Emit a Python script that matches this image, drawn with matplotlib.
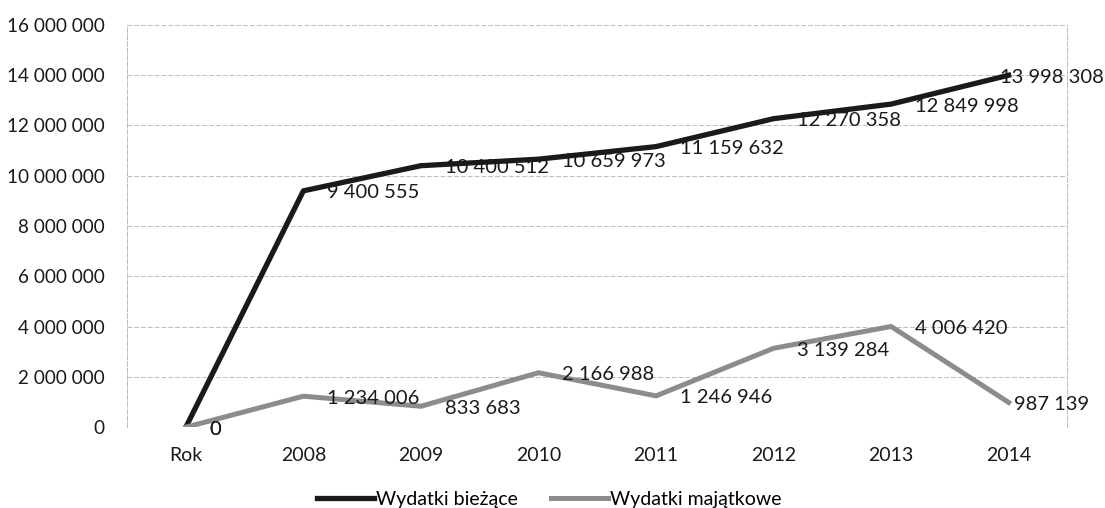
import matplotlib.pyplot as plt
from matplotlib.ticker import FuncFormatter

plt.rcParams['font.family'] = ['Lato', 'DejaVu Sans']

# kategorie i serie
lata = ["Rok", "2008", "2009", "2010", "2011", "2012", "2013", "2014"]
wydatki_biezace = [0, 9400555, 10400512, 10659973, 11159632, 12270358, 12849998, 13998308]
wydatki_majatkowe = [0, 1234006, 833683, 2166988, 1246946, 3139284, 4006420, 987139]
y_ticks = [0, 2000000, 4000000, 6000000, 8000000, 10000000, 12000000, 14000000, 16000000]


def spacja(v):
    return f"{int(v):,}".replace(",", " ")


fig = plt.figure(figsize=(11.05, 5.08), dpi=100)
ax = fig.add_axes([0.115, 0.159, 0.851, 0.792])

x = range(len(lata))
ax.plot(x, wydatki_biezace, color="#1a1a1a", lw=3.8, solid_joinstyle="round",
        label="Wydatki bieżące", zorder=3)
ax.plot(x, wydatki_majatkowe, color="#8c8c8c", lw=3.6, solid_joinstyle="round",
        label="Wydatki majątkowe", zorder=3)

# etykiety wartości po prawej stronie punktów; ostatnie przesunięte, żeby zmieściły się w ramce
ostatni = len(lata) - 1
for seria, dx_koniec in ((wydatki_biezace, -6.5), (wydatki_majatkowe, 3.5)):
    for i, v in enumerate(seria):
        dx = dx_koniec if i == ostatni else 17
        ax.annotate(spacja(v), (i, v), xytext=(dx, -1.5), textcoords="offset points",
                    ha="left", va="center", fontsize=14.5, color="#1a1a1a", zorder=4)

ax.set_xlim(-0.5, len(lata) - 0.5)
ax.set_ylim(0, 16000000)
ax.set_xticks(list(x))
ax.set_xticklabels(lata)
ax.set_yticks(y_ticks)
ax.yaxis.set_major_formatter(FuncFormatter(lambda v, p: spacja(v)))
ax.tick_params(length=0, labelsize=14, colors="#1a1a1a")
ax.tick_params(axis="y", labelsize=13.6, pad=16)
ax.tick_params(axis="x", pad=14)

ax.grid(axis="y", color="#bdbdbd", lw=0.7, ls=(0, (5, 2)))
for s in ("top", "bottom"):
    ax.spines[s].set_visible(False)
for s in ("left", "right"):
    ax.spines[s].set_color("#bdbdbd")
    ax.spines[s].set_linewidth(0.7)
    ax.spines[s].set_linestyle((0, (5, 2)))

ax.legend(loc="upper center", bbox_to_anchor=(0.449, -0.115), ncol=2, frameon=False,
          fontsize=14, handlelength=2.9, handletextpad=0.1, columnspacing=1.75)

fig.savefig("out.png", dpi=100)
